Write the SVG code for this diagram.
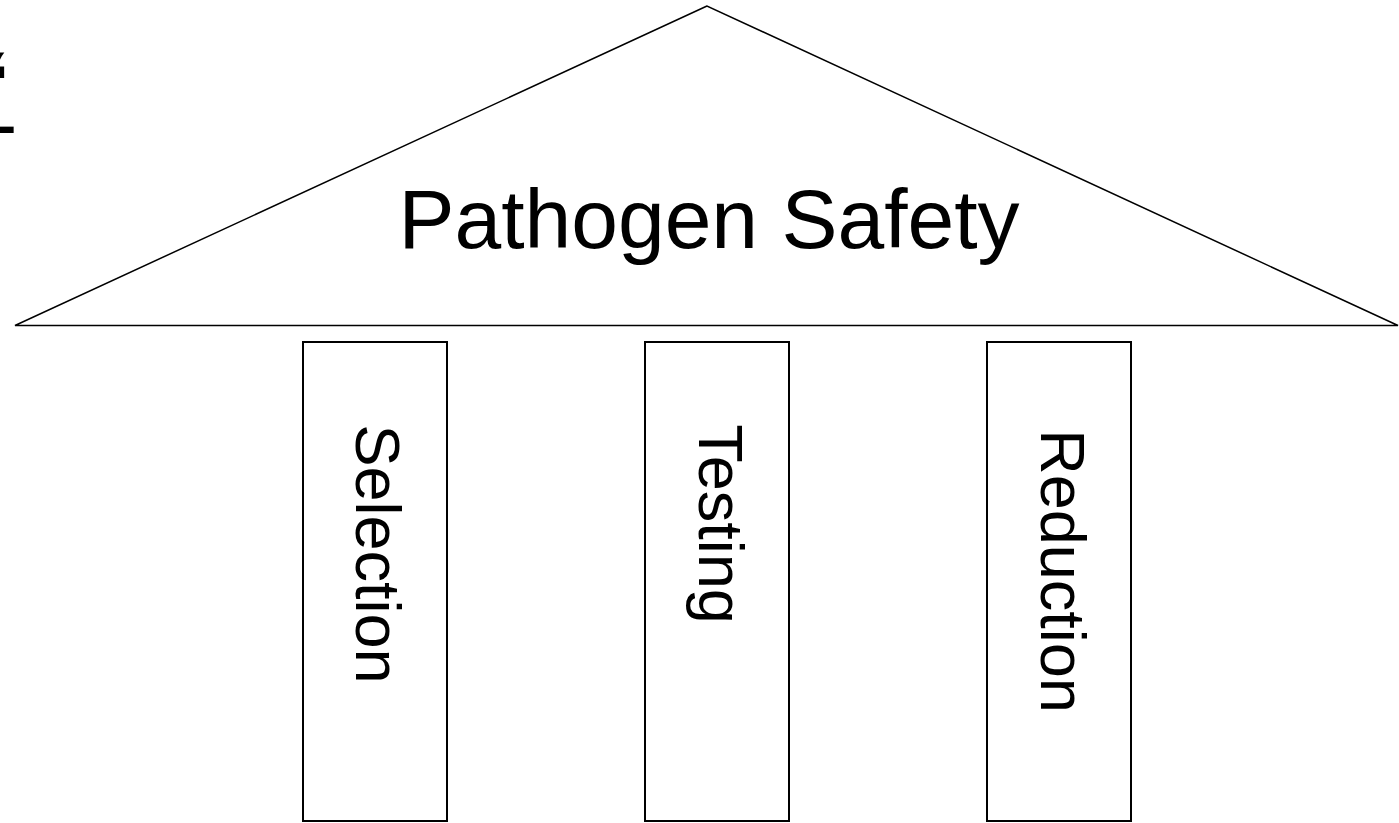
<svg xmlns="http://www.w3.org/2000/svg" width="1399" height="823" viewBox="0 0 1399 823">
<style>
.t{font-family:"Liberation Sans",Arial,sans-serif;fill:#000}
.pillar{fill:#fff;stroke:#000;stroke-width:2}
</style>
<rect width="1399" height="823" fill="#fff"/>
<g id="fragments">
<text class="t" x="-34" y="115" font-size="90" font-weight="bold">“</text>
<text class="t" x="-10" y="152" font-size="82">-</text>
</g>
<g id="roof">
<polygon points="707,6 15,325.5 1398,325.5" fill="#fff" stroke="#000" stroke-width="1.5"/>
<text class="t" x="709" y="248" font-size="84" text-anchor="middle">Pathogen Safety</text>
</g>
<g id="selection">
<rect class="pillar" x="303" y="342" width="144" height="479"/>
<text class="t" font-size="63" text-anchor="middle" transform="translate(356,554) rotate(90)">Selection</text>
</g>
<g id="testing">
<rect class="pillar" x="645" y="342" width="144" height="479"/>
<text class="t" font-size="63" text-anchor="middle" transform="translate(699,524) rotate(90)">Testing</text>
</g>
<g id="reduction">
<rect class="pillar" x="987" y="342" width="144" height="479"/>
<text class="t" font-size="63" text-anchor="middle" transform="translate(1041,571) rotate(90)">Reduction</text>
</g>
<g id="connectors"></g>
</svg>
